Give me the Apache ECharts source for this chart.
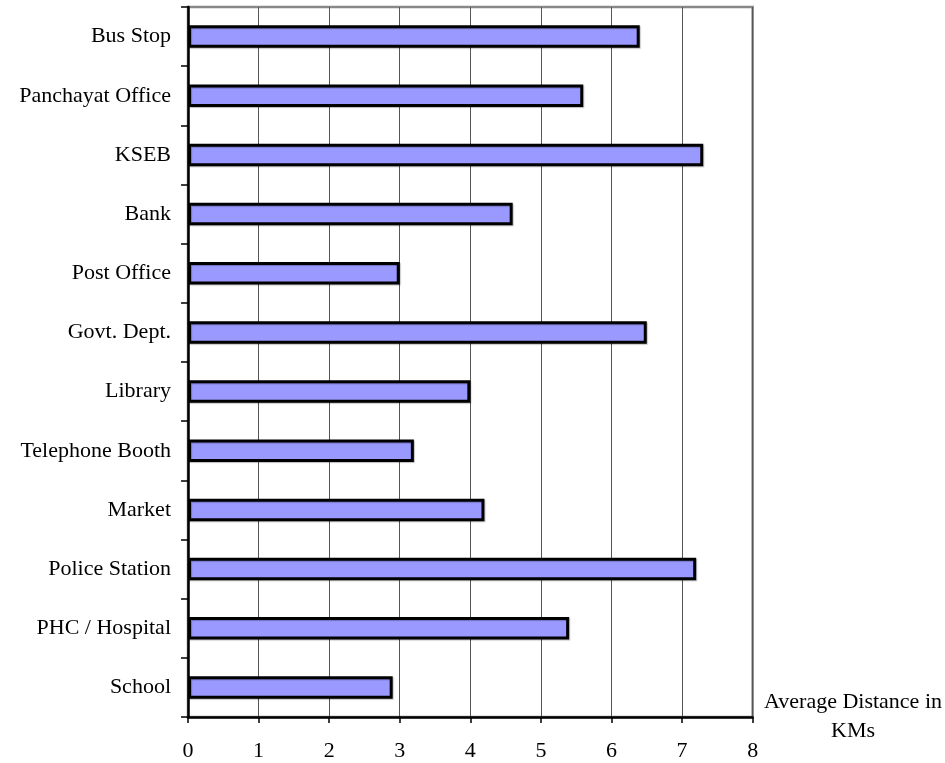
<!DOCTYPE html>
<html>
<head>
<meta charset="utf-8">
<title>Average Distance to Facilities</title>
<script src="https://cdn.jsdelivr.net/npm/echarts@6/dist/echarts.min.js"></script>
<style>
  html, body { margin: 0; padding: 0; background: #ffffff; }
  #chart { width: 945px; height: 763px; }
</style>
</head>
<body>
<div id="chart"></div>
<script>
// Facilities, listed top to bottom
const facilities = [
  'Bus Stop', 'Panchayat Office', 'KSEB', 'Bank', 'Post Office', 'Govt. Dept.',
  'Library', 'Telephone Booth', 'Market', 'Police Station', 'PHC / Hospital', 'School'
];
// Average distance in kilometres for each facility
const avgDistanceKm = [6.4, 5.6, 7.3, 4.6, 3.0, 6.5, 4.0, 3.2, 4.2, 7.2, 5.4, 2.9];
// Distance axis range
const axisMin = 0;
const axisMax = 8;
const axisStep = 1;
const axisTitle = 'Average Distance in\nKMs';

const font = '"Liberation Serif", "Times New Roman", serif';
const chart = echarts.init(document.getElementById('chart'), null, { renderer: 'canvas' });

chart.setOption({
  animation: false,
  backgroundColor: '#ffffff',
  grid: {
    left: 188, right: 174, top: 7, bottom: 46,
    show: true,
    borderColor: '#888888',
    borderWidth: 2.5,
    backgroundColor: 'transparent'
  },
  xAxis: {
    type: 'value',
    min: axisMin, max: axisMax, interval: axisStep,
    name: axisTitle,
    nameLocation: 'end',
    nameGap: 77,
    nameTextStyle: {
      fontFamily: font, fontSize: 22, color: '#000000',
      align: 'center', verticalAlign: 'middle',
      lineHeight: 29, padding: [10, 0, 0, 0]
    },
    axisLine: { show: true, onZero: false, lineStyle: { color: '#000000', width: 2.5 } },
    axisTick: { show: true, length: 6, lineStyle: { color: '#000000', width: 1.5 } },
    axisLabel: { fontFamily: font, fontSize: 22, color: '#000000', margin: 23 },
    splitLine: { show: true, lineStyle: { color: '#555555', width: 1 } }
  },
  yAxis: {
    type: 'category',
    data: facilities,
    inverse: true,
    axisLine: { show: true, lineStyle: { color: '#000000', width: 2.5 } },
    axisTick: { show: true, length: 7, lineStyle: { color: '#000000', width: 1.5 } },
    axisLabel: { fontFamily: font, fontSize: 22, color: '#000000', margin: 17 },
    splitLine: { show: false }
  },
  series: [{
    type: 'bar',
    data: avgDistanceKm,
    barWidth: 22.5,
    itemStyle: {
      color: '#9999ff',
      borderColor: '#000000',
      borderWidth: 3,
      shadowColor: 'rgba(0,0,0,0.25)',
      shadowBlur: 1,
      shadowOffsetX: 1,
      shadowOffsetY: 1
    }
  }]
});
</script>
</body>
</html>
